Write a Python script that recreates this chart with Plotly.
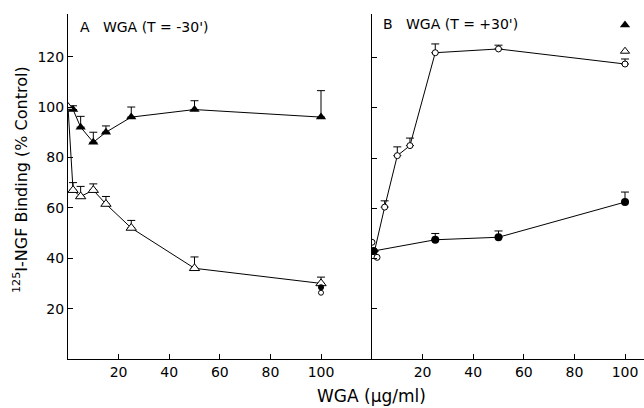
import plotly.graph_objects as go

# Panel A (T = -30')
a_x = [0, 2, 5, 10, 15, 25, 50, 100]
a_filled_y = [100, 99, 92, 86, 90, 96, 99, 96]
a_filled_err = [0, 1.5, 4.3, 4, 2.5, 4, 3.5, 10.5]
a_open_y = [100, 67, 64.5, 67, 61.5, 52, 36, 30]
a_open_err = [0, 3, 4, 2.5, 3, 3, 4.5, 2.5]
a_extra_filled_circle = (100, 28.5)
a_extra_open_circle = (100, 26.3)

# Panel B (T = +30')
b_open_x = [1, 5, 10, 15, 25, 50, 100]
b_open_y = [43, 60.5, 81, 85, 122, 123.5, 117.5]
b_open_err = [0, 2.5, 3.5, 3, 3.5, 1.5, 2]
b_open_extra_x = [0, 2]
b_open_extra_y = [46.5, 40.5]
b_filled_x = [0.5, 25, 50, 100]
b_filled_y = [43, 47.5, 48.5, 62.5]
b_filled_err = [0, 2.5, 2.5, 4]
b_sym_filled_tri = (100, 133)
b_sym_open_tri = (100, 122.6)

x_ticks = [20, 40, 60, 80, 100]
y_ticks = [20, 40, 60, 80, 100, 120]

FONT = "DejaVu Sans"
W, H = 644, 408


def err(up):
    return dict(type="data", symmetric=False, array=up, arrayminus=[0] * len(up),
                width=4, thickness=1, color="black")


fig = go.Figure()

# Panel A
fig.add_trace(go.Scatter(x=a_x, y=a_filled_y, mode="lines+markers", xaxis="x", yaxis="y",
                         line=dict(color="black", width=1), error_y=err(a_filled_err),
                         marker=dict(symbol="triangle-up", size=9, color="black")))
fig.add_trace(go.Scatter(x=a_x, y=a_open_y, mode="lines+markers", xaxis="x", yaxis="y",
                         line=dict(color="black", width=1), error_y=err(a_open_err),
                         marker=dict(symbol="triangle-up", size=9, color="white",
                                     line=dict(color="black", width=1))))
fig.add_trace(go.Scatter(x=[a_extra_filled_circle[0]], y=[a_extra_filled_circle[1]], mode="markers",
                         xaxis="x", yaxis="y", marker=dict(symbol="circle", size=6, color="black")))
fig.add_trace(go.Scatter(x=[a_extra_open_circle[0]], y=[a_extra_open_circle[1]], mode="markers",
                         xaxis="x", yaxis="y", marker=dict(symbol="circle", size=5, color="white",
                                                           line=dict(color="black", width=1))))

# Panel B
fig.add_trace(go.Scatter(x=b_open_x, y=b_open_y, mode="lines+markers", xaxis="x2", yaxis="y2",
                         line=dict(color="black", width=1), error_y=err(b_open_err),
                         marker=dict(symbol="circle", size=6, color="white",
                                     line=dict(color="black", width=1))))
fig.add_trace(go.Scatter(x=b_open_extra_x, y=b_open_extra_y, mode="markers", xaxis="x2", yaxis="y2",
                         marker=dict(symbol="circle", size=6, color="white",
                                     line=dict(color="black", width=1))))
fig.add_trace(go.Scatter(x=b_filled_x, y=b_filled_y, mode="lines+markers", xaxis="x2", yaxis="y2",
                         line=dict(color="black", width=1), error_y=err(b_filled_err),
                         marker=dict(symbol="circle", size=8, color="black")))
fig.add_trace(go.Scatter(x=[b_sym_filled_tri[0]], y=[b_sym_filled_tri[1]], mode="markers",
                         xaxis="x2", yaxis="y2",
                         marker=dict(symbol="triangle-up", size=9, color="black")))
fig.add_trace(go.Scatter(x=[b_sym_open_tri[0]], y=[b_sym_open_tri[1]], mode="markers",
                         xaxis="x2", yaxis="y2",
                         marker=dict(symbol="triangle-up", size=8, color="white",
                                     line=dict(color="black", width=1))))

x0a, x0b, x1b = 68, 372, 644
ybot, ytop = 359, 13.8
ydom = [(H - ybot) / H, (H - ytop) / H]
ax_common = dict(showgrid=False, zeroline=False, showline=True, linecolor="black", linewidth=1,
                 ticks="inside", ticklen=5, tickcolor="black", tickwidth=1,
                 tickfont=dict(family=FONT, size=14, color="black"))

fig.update_layout(
    width=W, height=H, margin=dict(l=0, r=0, t=0, b=0),
    paper_bgcolor="white", plot_bgcolor="white", showlegend=False,
    xaxis=dict(domain=[x0a / W, x0b / W], range=[0, (x0b - x0a) / 2.53], anchor="y",
               tickvals=x_ticks, **ax_common),
    yaxis=dict(domain=ydom, range=[0, 137], anchor="x", tickvals=y_ticks, **ax_common),
    xaxis2=dict(domain=[x0b / W, 1], range=[0, (x1b - x0b) / 2.53], anchor="y2",
                tickvals=x_ticks, **ax_common),
    yaxis2=dict(domain=ydom, range=[0, 137.5], anchor="x2", tickvals=y_ticks,
                showticklabels=False, **ax_common),
    annotations=[
        dict(text="A   WGA (T = -30')", x=78 / W, y=1 - 27 / H, xref="paper", yref="paper",
             xanchor="left", yanchor="middle", showarrow=False,
             font=dict(family=FONT, size=14, color="black")),
        dict(text="B   WGA (T = +30')", x=381 / W, y=1 - 24 / H, xref="paper", yref="paper",
             xanchor="left", yanchor="middle", showarrow=False,
             font=dict(family=FONT, size=14, color="black")),
        dict(text="<sup>125</sup>I-NGF Binding (% Control)", x=20 / W, y=1 - 180 / H,
             xref="paper", yref="paper", textangle=-90, showarrow=False,
             xanchor="center", yanchor="middle",
             font=dict(family=FONT, size=16, color="black")),
        dict(text="WGA (\u03bcg/ml)", x=371 / W, y=1 - 396 / H, xref="paper", yref="paper",
             showarrow=False, xanchor="center", yanchor="middle",
             font=dict(family=FONT, size=17, color="black")),
    ],
)

fig.write_html("out.html", config={"displayModeBar": False},
               post_script="document.body.style.margin='0';document.body.style.overflow='hidden';")
